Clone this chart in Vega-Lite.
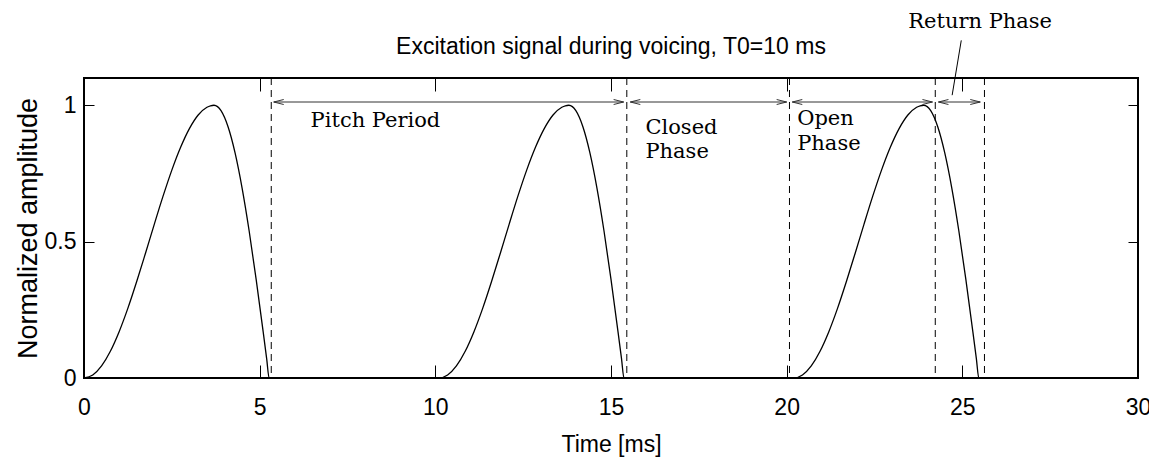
{
  "$schema": "https://vega.github.io/schema/vega-lite/v6.json",
  "autosize": {"type": "none"},
  "width": 1054,
  "height": 300,
  "padding": {"left": 84, "top": 78, "right": 11, "bottom": 79},
  "background": "white",
  "config": {
    "view": {"stroke": "black", "strokeWidth": 2},
    "font": "Liberation Sans",
    "axis": {"grid": false, "domain": false, "tickColor": "black", "labelColor": "black", "titleColor": "black", "labelFont": "Liberation Sans", "titleFont": "Liberation Sans", "labelFontSize": 23, "titleFontSize": 23, "titleFontWeight": "normal"}
  },
  "title": {"text": "Excitation signal during voicing, T0=10 ms", "fontSize": 23, "font": "Liberation Sans", "fontWeight": "normal", "anchor": "middle", "frame": "group", "baseline": "alphabetic", "offset": 26, "dy": 92, "color": "black"},
  "datasets": {
    "pulse": [
      {"t": 0, "a": 0}, {"t": 0.25, "a": 0.0112}, {"t": 0.5, "a": 0.0444}, {"t": 0.75, "a": 0.098}, {"t": 1.0, "a": 0.1698}, {"t": 1.25, "a": 0.2561}, {"t": 1.5, "a": 0.3536}, {"t": 1.75, "a": 0.4576}, {"t": 2.0, "a": 0.5635}, {"t": 2.25, "a": 0.6667}, {"t": 2.5, "a": 0.7623}, {"t": 2.75, "a": 0.846}, {"t": 3.0, "a": 0.9145}, {"t": 3.25, "a": 0.9644}, {"t": 3.5, "a": 0.9928}, {"t": 3.6, "a": 0.9982}, {"t": 3.7, "a": 1.0}, {"t": 3.8, "a": 0.995}, {"t": 3.9, "a": 0.98}, {"t": 4.1, "a": 0.921}, {"t": 4.3, "a": 0.8252}, {"t": 4.5, "a": 0.6964}, {"t": 4.7, "a": 0.5399}, {"t": 4.9, "a": 0.3613}, {"t": 5.1, "a": 0.169}, {"t": 5.2, "a": 0.07}, {"t": 5.27, "a": 0},
      {"t": 10.1, "a": 0}, {"t": 10.35, "a": 0.0112}, {"t": 10.6, "a": 0.0444}, {"t": 10.85, "a": 0.098}, {"t": 11.1, "a": 0.1698}, {"t": 11.35, "a": 0.2561}, {"t": 11.6, "a": 0.3536}, {"t": 11.85, "a": 0.4576}, {"t": 12.1, "a": 0.5635}, {"t": 12.35, "a": 0.6667}, {"t": 12.6, "a": 0.7623}, {"t": 12.85, "a": 0.846}, {"t": 13.1, "a": 0.9145}, {"t": 13.35, "a": 0.9644}, {"t": 13.6, "a": 0.9928}, {"t": 13.7, "a": 0.9982}, {"t": 13.8, "a": 1.0}, {"t": 13.9, "a": 0.995}, {"t": 14.0, "a": 0.98}, {"t": 14.2, "a": 0.921}, {"t": 14.4, "a": 0.8252}, {"t": 14.6, "a": 0.6964}, {"t": 14.8, "a": 0.5399}, {"t": 15.0, "a": 0.3613}, {"t": 15.2, "a": 0.169}, {"t": 15.3, "a": 0.07}, {"t": 15.37, "a": 0},
      {"t": 20.2, "a": 0}, {"t": 20.45, "a": 0.0112}, {"t": 20.7, "a": 0.0444}, {"t": 20.95, "a": 0.098}, {"t": 21.2, "a": 0.1698}, {"t": 21.45, "a": 0.2561}, {"t": 21.7, "a": 0.3536}, {"t": 21.95, "a": 0.4576}, {"t": 22.2, "a": 0.5635}, {"t": 22.45, "a": 0.6667}, {"t": 22.7, "a": 0.7623}, {"t": 22.95, "a": 0.846}, {"t": 23.2, "a": 0.9145}, {"t": 23.45, "a": 0.9644}, {"t": 23.7, "a": 0.9928}, {"t": 23.8, "a": 0.9982}, {"t": 23.9, "a": 1.0}, {"t": 24.0, "a": 0.995}, {"t": 24.1, "a": 0.98}, {"t": 24.3, "a": 0.921}, {"t": 24.5, "a": 0.8252}, {"t": 24.7, "a": 0.6964}, {"t": 24.9, "a": 0.5399}, {"t": 25.1, "a": 0.3613}, {"t": 25.3, "a": 0.169}, {"t": 25.4, "a": 0.07}, {"t": 25.47, "a": 0},
      {"t": 30, "a": 0}
    ],
    "dashed": [{"t": 5.33}, {"t": 15.45}, {"t": 20.08}, {"t": 24.23}, {"t": 25.63}],
    "arrows": [
      {"x1": 5.4, "x2": 15.36, "y": 1.012},
      {"x1": 15.55, "x2": 20.0, "y": 1.012},
      {"x1": 20.16, "x2": 24.15, "y": 1.012},
      {"x1": 24.32, "x2": 25.51, "y": 1.012}
    ],
    "heads": [
      {"t": 5.4, "y": 1.012, "dir": "left"}, {"t": 15.36, "y": 1.012, "dir": "right"},
      {"t": 15.55, "y": 1.012, "dir": "left"}, {"t": 20.0, "y": 1.012, "dir": "right"},
      {"t": 20.16, "y": 1.012, "dir": "left"}, {"t": 24.15, "y": 1.012, "dir": "right"},
      {"t": 24.32, "y": 1.012, "dir": "left"}, {"t": 25.51, "y": 1.012, "dir": "right"}
    ],
    "labels": [
      {"t": 6.45, "y": 0.92, "text": "Pitch Period"},
      {"t": 15.98, "y": 0.894, "text": "Closed"},
      {"t": 15.98, "y": 0.806, "text": "Phase"},
      {"t": 20.3, "y": 0.927, "text": "Open"},
      {"t": 20.3, "y": 0.835, "text": "Phase"},
      {"t": 23.46, "y": 1.282, "text": "Return Phase"}
    ],
    "pointer": [{"x1": 24.97, "y1": 1.238, "x2": 24.71, "y2": 1.037}]
  },
  "layer": [
    {
      "data": {"name": "pulse"},
      "mark": {"type": "line", "color": "black", "strokeWidth": 1.3, "interpolate": "monotone"},
      "encoding": {
        "x": {"field": "t", "type": "quantitative", "scale": {"domain": [0, 30], "nice": false, "zero": false},
              "axis": {"orient": "bottom", "values": [0, 5, 10, 15, 20, 25, 30], "tickSize": -13, "labelPadding": 31, "title": "Time [ms]", "titlePadding": 14, "labelFlush": false}},
        "y": {"field": "a", "type": "quantitative", "scale": {"domain": [0, 1.1], "nice": false},
              "axis": {"orient": "left", "values": [0, 0.5, 1], "format": "~g", "tickSize": -10, "labelPadding": 18, "title": "Normalized amplitude", "titleFontSize": 27, "titlePadding": 2}}
      }
    },
    {
      "data": {"name": "dashed"},
      "mark": {"type": "rule", "color": "black", "strokeWidth": 1, "strokeDash": [7, 5]},
      "encoding": {
        "x": {"field": "t", "type": "quantitative", "axis": null}
      }
    },
    {
      "data": {"name": "arrows"},
      "mark": {"type": "rule", "color": "#333333", "strokeWidth": 1},
      "encoding": {
        "x": {"field": "x1", "type": "quantitative",
              "axis": {"orient": "top", "values": [0, 5, 10, 15, 20, 25, 30], "tickSize": -13, "labels": false, "title": null}},
        "x2": {"field": "x2"},
        "y": {"field": "y", "type": "quantitative",
              "axis": {"orient": "right", "values": [0, 0.5, 1], "tickSize": -10, "labels": false, "title": null}}
      }
    },
    {
      "data": {"name": "heads"},
      "mark": {"type": "point", "filled": false, "color": "#333333", "strokeWidth": 1, "size": 400, "opacity": 1},
      "encoding": {
        "x": {"field": "t", "type": "quantitative", "axis": null},
        "y": {"field": "y", "type": "quantitative", "axis": null},
        "shape": {"field": "dir", "type": "nominal", "legend": null,
                  "scale": {"domain": ["left", "right"], "range": ["M0,0L1,-0.25M0,0L1,0.25", "M0,0L-1,-0.25M0,0L-1,0.25"]}}
      }
    },
    {
      "data": {"name": "labels"},
      "mark": {"type": "text", "font": "DejaVu Serif", "fontSize": 21, "baseline": "alphabetic", "align": "left", "color": "black"},
      "encoding": {
        "x": {"field": "t", "type": "quantitative", "axis": null},
        "y": {"field": "y", "type": "quantitative", "axis": null},
        "text": {"field": "text"}
      }
    },
    {
      "data": {"name": "pointer"},
      "mark": {"type": "rule", "color": "black", "strokeWidth": 1},
      "encoding": {
        "x": {"field": "x1", "type": "quantitative", "axis": null},
        "x2": {"field": "x2"},
        "y": {"field": "y1", "type": "quantitative", "axis": null},
        "y2": {"field": "y2"}
      }
    }
  ],
  "resolve": {"axis": {"x": "independent", "y": "independent"}}
}
